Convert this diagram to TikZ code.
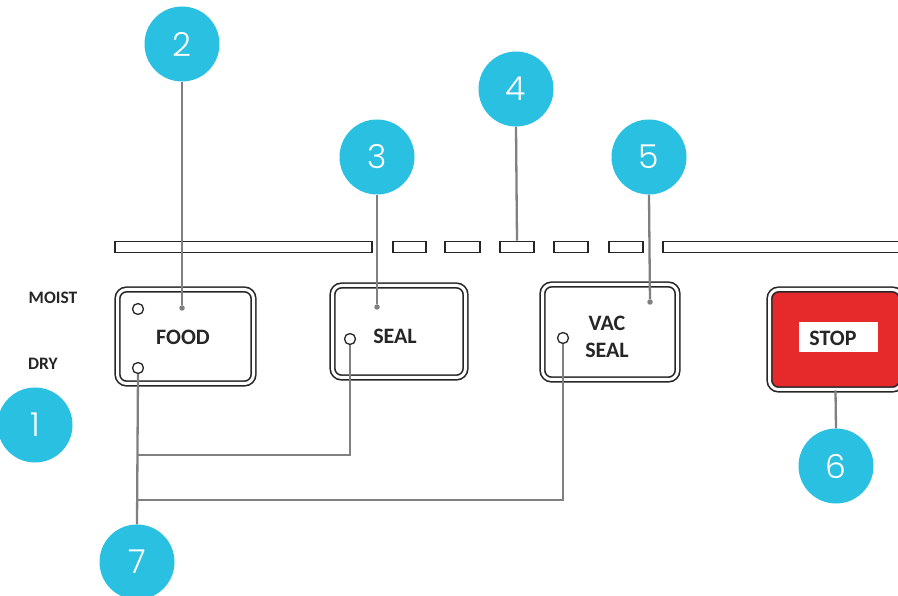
\documentclass[tikz,border=0pt]{standalone}
\usepackage{fontspec}
\setmainfont{Carlito}
\newfontfamily\numfont{Poppins Light}
\definecolor{bubble}{HTML}{29C0E2}
\definecolor{leadergray}{HTML}{808080}
\definecolor{stopred}{HTML}{E62A2C}
\definecolor{ink}{HTML}{262626}
\tikzset{
  bubble/.style={circle, fill=bubble, minimum size=75pt, inner sep=0pt, text=white,
                 font=\numfont\fontsize{33}{33}\selectfont},
  leader/.style={draw=leadergray, line width=2.3pt},
  tipdot/.style={circle, fill=leadergray, inner sep=0pt, minimum size=5.5pt},
  led/.style={circle, draw=ink, line width=1.3pt, minimum size=11pt, inner sep=0pt, fill=white},
  keybox/.style={draw=ink, double=white, double distance=3pt, line width=1.6pt,
                 rounded corners=9pt, inner sep=0pt},
  barseg/.style={draw=ink, line width=1.8pt, fill=white, inner sep=0pt, minimum height=11pt},
  keytext/.style={text=ink, font=\bfseries\fontsize{22}{27}\selectfont, align=center, inner sep=0pt},
  sidetext/.style={text=ink, font=\bfseries\fontsize{17.5}{19}\selectfont, inner sep=0pt}
}
\begin{document}
\begin{tikzpicture}[x=1pt,y=-1pt]
\useasboundingbox (0,0) rectangle (898,596);
% top bar
\node[barseg, minimum width=257pt] (barL) at (243.5,247) {};
\node[barseg, minimum width=33pt] (seg1) at (409.5,247) {};
\node[barseg, minimum width=35pt] (seg2) at (462.5,247) {};
\node[barseg, minimum width=34pt] (seg3) at (517,247) {};
\node[barseg, minimum width=34pt] (seg4) at (571,247) {};
\node[barseg, minimum width=34pt] (seg5) at (626,247) {};
\node[barseg, minimum width=247pt] (barR) at (786.5,247) {};
% keys
\node[keybox, minimum width=136pt, minimum height=94pt] (food) at (185.5,336.5) {};
\node[keybox, minimum width=133pt, minimum height=92pt] (seal) at (399,331.5) {};
\node[keybox, minimum width=135pt, minimum height=95pt] (vac) at (610,332) {};
\node[keybox, fill=stopred, minimum width=132pt, minimum height=100pt] (stop) at (835.5,339.5) {};
\node[fill=white, minimum width=79pt, minimum height=30pt, inner sep=0pt] (stopplate) at (838.5,337) {};
% key texts
\node[keytext] (foodtxt) at (183,337) {FOOD};
\node[keytext] (sealtxt) at (395,336) {SEAL};
\node[keytext] (vactxt) at (607,337) {VAC\\SEAL};
\node[keytext] (stoptxt) at (833,338) {STOP};
\node[sidetext] (moist) at (53,298) {MOIST};
\node[sidetext] (dry) at (43,364) {DRY};
% LEDs
\node[led] (ledmoist) at (138,309) {};
\node[led] (leddry) at (138,368) {};
\node[led] (ledseal) at (350,339) {};
\node[led] (ledvac) at (563,338) {};
% bubbles
\node[bubble] (b1) at (35,425) {1};
\node[bubble] (b2) at (182,44) {2};
\node[bubble] (b3) at (377,157) {3};
\node[bubble] (b4) at (516,89) {4};
\node[bubble] (b5) at (649,157) {5};
\node[bubble] (b6) at (836,466) {6};
\node[bubble] (b7) at (137,562) {7};
% leader end points
\node[tipdot] (t2) at (182,308) {};
\node[tipdot] (t3) at (377,307) {};
\node[tipdot] (t5) at (650,302) {};
\coordinate (j1) at (137,455);
\coordinate (j2) at (137,500);
% leaders
\draw[leader] (b2.south) -- (t2);
\draw[leader] (b3.south) -- (t3);
\draw[leader] (b4.south) -- (seg3.north);
\draw[leader] (b5.south) -- (t5);
\draw[leader] (stop.south) -- (b6.north);
\draw[leader] (leddry.south) -- (b7.north);
\draw[leader] (ledseal.south) |- (j1);
\draw[leader] (ledvac.south) |- (j2);
\end{tikzpicture}
\end{document}
